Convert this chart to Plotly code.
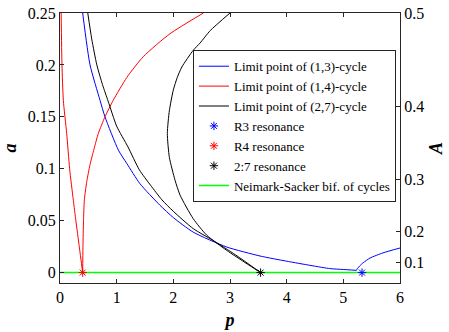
import plotly.graph_objects as go

# ---- data (p, a) ----
# Limit point of (1,3)-cycle: main branch and the small hook near R3
p_13_main = [0.40, 0.53, 0.706, 0.794, 1.03, 1.18, 1.41, 1.765, 2.0, 2.35, 2.94, 3.53, 4.0, 4.76, 5.0, 5.23]
a_13_main = [0.25, 0.20, 0.166, 0.150, 0.118, 0.105, 0.0857, 0.0648, 0.053, 0.039, 0.0247, 0.016, 0.011, 0.0039, 0.003, 0.0022]
p_13_hook = [5.23, 5.25, 5.29, 5.35, 5.47, 5.7, 6.0]
a_13_hook = [0.0022, 0.004, 0.0065, 0.0095, 0.014, 0.019, 0.0237]

# Limit point of (1,4)-cycle: two branches meeting at R4
p_14_left = [0.02, 0.035, 0.059, 0.118, 0.17, 0.235, 0.28, 0.34, 0.40]
a_14_left = [0.25, 0.20, 0.166, 0.134, 0.10, 0.0697, 0.05, 0.025, 0.0]
p_14_right = [0.40, 0.405, 0.415, 0.43, 0.47, 0.53, 0.60, 0.676, 0.794, 0.94, 1.18, 1.47, 1.94, 2.53]
a_14_right = [0.0, 0.025, 0.05, 0.07, 0.087, 0.104, 0.119, 0.134, 0.150, 0.166, 0.188, 0.208, 0.230, 0.25]

# Limit point of (2,7)-cycle: left branch and the arc, meeting at the 2:7 point
p_27_left = [0.49, 0.56, 0.65, 0.75, 0.85, 1.0, 1.2, 1.4, 1.6, 1.8, 2.0, 2.35, 2.7, 3.1, 3.54]
a_27_left = [0.25, 0.225, 0.20, 0.181, 0.165, 0.141, 0.121, 0.099, 0.084, 0.070, 0.059, 0.0424, 0.031, 0.017, 0.0]
p_27_arc = [3.0, 2.65, 2.47, 2.35, 2.15, 2.07, 2.0, 1.93, 1.894, 1.93, 2.03, 2.12, 2.35, 2.59, 2.94, 3.54]
a_27_arc = [0.25, 0.233, 0.221, 0.214, 0.198, 0.188, 0.176, 0.156, 0.134, 0.111, 0.089, 0.0745, 0.052, 0.036, 0.0215, 0.0]

# Neimark-Sacker bifurcation of cycles
p_ns = [0.0, 6.0]
a_ns = [0.0, 0.0]

# resonance points
p_r3, a_r3 = [5.33], [0.0]
p_r4, a_r4 = [0.40], [0.0]
p_r27, a_r27 = [3.54], [0.0]

# axis ticks
x_ticks = [0, 1, 2, 3, 4, 5, 6]
a_ticks = [0, 0.05, 0.1, 0.15, 0.2, 0.25]
a_tick_text = ["0", "0.05", "0.1", "0.15", "0.2", "0.25"]
A_ticks = [0.1, 0.2, 0.3, 0.4, 0.5]
A_tick_text = ["0.1", "0.2", "0.3", "0.4", "0.5"]

BLUE, RED, BLACK, GREEN = "#0000FF", "#FF0000", "#000000", "#00FF00"
FONT = "'Liberation Serif', 'Times New Roman', Times, serif"
AXC = "#262626"

fig = go.Figure()

def curve(x, y, color, name, show, rank):
    fig.add_trace(go.Scatter(x=x, y=y, mode="lines", name=name, legendgroup=name,
                             showlegend=show, legendrank=rank,
                             line=dict(color=color, width=1, shape="spline", smoothing=0.6)))

curve(p_13_main, a_13_main, BLUE, "Limit point of (1,3)-cycle", True, 1)
curve(p_13_hook, a_13_hook, BLUE, "Limit point of (1,3)-cycle", False, 1)
curve(p_14_left, a_14_left, RED, "Limit point of (1,4)-cycle", True, 2)
curve(p_14_right, a_14_right, RED, "Limit point of (1,4)-cycle", False, 2)
curve(p_27_left, a_27_left, BLACK, "Limit point of (2,7)-cycle", True, 3)
curve(p_27_arc, a_27_arc, BLACK, "Limit point of (2,7)-cycle", False, 3)

fig.add_trace(go.Scatter(x=p_ns, y=a_ns, mode="lines", name="Neimark-Sacker bif. of cycles",
                         legendrank=7, line=dict(color=GREEN, width=1.5)))

def star(x, y, color, name, rank):
    fig.add_trace(go.Scatter(x=x, y=y, mode="markers", name=name, legendrank=rank,
                             marker=dict(symbol="asterisk-open", size=7, color=color,
                                         line=dict(color=color, width=1))))

star(p_r3, a_r3, BLUE, "R3 resonance", 4)
star(p_r4, a_r4, RED, "R4 resonance", 5)
star(p_r27, a_r27, BLACK, "2:7 resonance", 6)

# dummy trace to activate right axis
fig.add_trace(go.Scatter(x=[None], y=[None], yaxis="y2", showlegend=False, hoverinfo="skip"))

yrange = [-0.01, 0.25]
title_font = dict(family=FONT, size=18, color="#000000", weight="bold", style="italic")
tick_font = dict(family=FONT, size=16, color="#000000")

fig.update_layout(
    width=449, height=332,
    margin=dict(l=60, r=49, t=13, b=49),
    paper_bgcolor="white", plot_bgcolor="white",
    font=dict(family=FONT),
    showlegend=True,
    legend=dict(x=0.391, y=0.862, xanchor="left", yanchor="top",
                bgcolor="white", bordercolor=AXC, borderwidth=1,
                font=dict(family=FONT, size=13, color="#000000"),
                tracegroupgap=0, itemwidth=30),
    xaxis=dict(range=[0, 6], tickvals=x_ticks, ticks="inside", ticklen=4, tickcolor=AXC,
               showline=True, linecolor=AXC, linewidth=1, mirror="ticks", automargin=False,
               showgrid=False, zeroline=False, tickfont=tick_font,
               title=dict(text="p", font=title_font, standoff=8)),
    yaxis=dict(range=yrange, tickvals=a_ticks, ticktext=a_tick_text, ticks="inside", ticklen=4,
               tickcolor=AXC, showline=True, linecolor=AXC, linewidth=1, mirror=False,
               automargin=False,
               showgrid=False, zeroline=False, tickfont=tick_font,
               title=dict(text="a", font=title_font, standoff=6)),
    yaxis2=dict(range=yrange, overlaying="y", side="right", automargin=False,
                tickvals=[v * v for v in A_ticks], ticktext=A_tick_text,
                ticks="inside", ticklen=4, tickcolor=AXC, showline=True, linecolor=AXC,
                linewidth=1, showgrid=False, zeroline=False, tickfont=tick_font,
                title=dict(text="A", font=title_font, standoff=6)),
)

fig.write_html("out.html", config={"displayModeBar": False},
               post_script="document.body.style.margin='0';document.body.style.padding='0';")
